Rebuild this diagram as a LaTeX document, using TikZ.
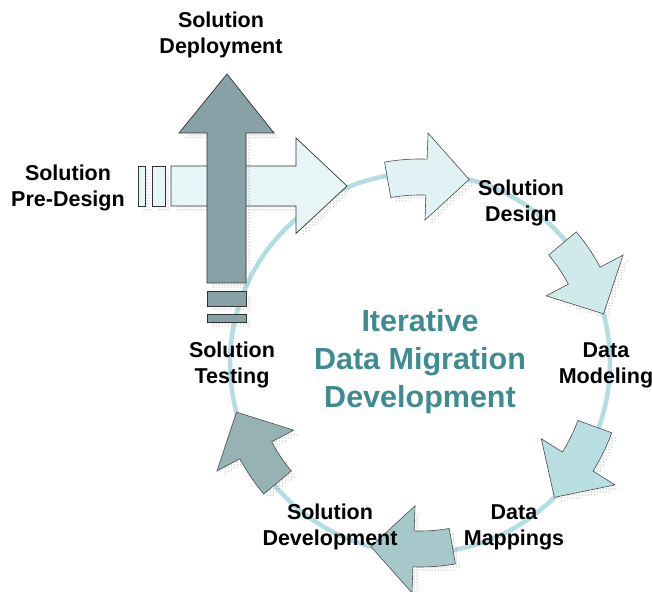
\documentclass[tikz,border=0pt]{standalone}
\usepackage{fontspec}
\setmainfont{Liberation Sans}
\usetikzlibrary{patterns}

\definecolor{ringcol}{HTML}{B3DDE0}
\definecolor{titlecol}{HTML}{3E8B90}
\definecolor{preblue}{HTML}{E7F5F6}
\definecolor{deploy}{HTML}{87A1A6}
\definecolor{stepA}{HTML}{E0F2F3}
\definecolor{stepB}{HTML}{D0E9EB}
\definecolor{stepC}{HTML}{B9DFE2}
\definecolor{stepD}{HTML}{A7C8CB}
\definecolor{stepE}{HTML}{96B2B5}

\tikzset{
  lbl/.style={font=\fontsize{21.5}{26}\selectfont\bfseries, align=center},
  dotshadow/.style={pattern=dots, pattern color=black!60},
  blk/.style={draw=black!80, line width=0.7pt}
}

\begin{document}
\begin{tikzpicture}[x=1pt, y=1pt, line join=miter]
  \useasboundingbox (0,0) rectangle (652,591);
  \coordinate (c) at (420,228);
  % anillo del ciclo
  \draw[ringcol, line width=4.5pt] (c) circle[radius=190pt];
  % flechas curvas sobre el anillo (cola en \a)
  \foreach \a/\col in {100/stepA, 40/stepB, -20/stepC, -80/stepD, -140/stepE}{
    \path[dotshadow, shift={(c)}, shift={(5,-5)}]
      (\a:204pt) arc[start angle=\a, end angle=\a-12, radius=204pt]
      -- (\a-12:230pt) -- (\a-25:190pt) -- (\a-12:143pt) -- (\a-12:168pt)
      arc[start angle=\a-12, end angle=\a, radius=168pt] -- cycle;
    \filldraw[fill=\col, draw=black!70, line width=0.6pt, shift={(c)}]
      (\a:204pt) arc[start angle=\a, end angle=\a-12, radius=204pt]
      -- (\a-12:230pt) -- (\a-25:190pt) -- (\a-12:143pt) -- (\a-12:168pt)
      arc[start angle=\a-12, end angle=\a, radius=168pt] -- cycle;
  }
  % flecha horizontal (pre-diseno)
  \begin{scope}[shift={(5,-5)}]
    \fill[dotshadow] (171,385) -- (171,425) -- (296,425) -- (296,453) -- (347,405)
      -- (296,357.5) -- (296,385) -- cycle;
    \fill[dotshadow] (138,385) rectangle (145,425);
    \fill[dotshadow] (152,385) rectangle (165,425);
  \end{scope}
  \filldraw[blk, fill=preblue] (171,385) -- (171,425) -- (296,425) -- (296,453) -- (347,405)
    -- (296,357.5) -- (296,385) -- cycle;
  \filldraw[blk, fill=preblue] (138,385) rectangle (145,425);
  \filldraw[blk, fill=preblue] (152,385) rectangle (165,425);
  % flecha vertical (despliegue)
  \begin{scope}[shift={(5,-5)}]
    \fill[dotshadow] (207,308) -- (207,458) -- (179,458) -- (227,517) -- (274,458)
      -- (246,458) -- (246,308) -- cycle;
    \fill[dotshadow] (207,285) rectangle (246,300);
    \fill[dotshadow] (207,269) rectangle (246,277);
  \end{scope}
  \filldraw[blk, fill=deploy] (207,308) -- (207,458) -- (179,458) -- (227,517) -- (274,458)
    -- (246,458) -- (246,308) -- cycle;
  \filldraw[blk, fill=deploy] (207,285) rectangle (246,300);
  \filldraw[blk, fill=deploy] (207,269) rectangle (246,277);
  % etiquetas
  \node[lbl] (deploylbl) at (221,556) {Solution\\Deployment};
  \node[lbl] (prelbl) at (68,403) {Solution\\Pre-Design};
  \node[lbl] (designlbl) at (521,388) {Solution\\Design};
  \node[lbl] (modellbl) at (606,226) {Data\\Modeling};
  \node[lbl] (maplbl) at (514,64) {Data\\Mappings};
  \node[lbl] (devlbl) at (330,64) {Solution\\Development};
  \node[lbl] (testlbl) at (232,226) {Solution\\Testing};
  % titulo central
  \node[font=\fontsize{30.5}{38}\selectfont\bfseries, align=center, text=titlecol]
    (title) at (420,229) {Iterative\\Data Migration\\Development};
\end{tikzpicture}
\end{document}
